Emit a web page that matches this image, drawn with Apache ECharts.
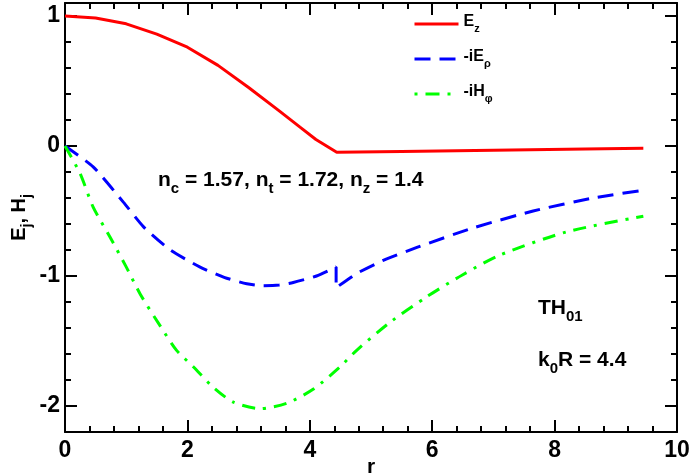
<!DOCTYPE html>
<html>
<head>
<meta charset="utf-8">
<script src="https://cdn.jsdelivr.net/npm/echarts@6/dist/echarts.min.js"></script>
<style>
  html, body { margin: 0; padding: 0; background: #fff; }
  #chart { width: 691px; height: 475px; }
</style>
</head>
<body>
<div id="chart"></div>
<script>
// values
const rEz = [0, 0.5, 1, 1.5, 2, 2.5, 3, 3.5, 3.84, 4.1, 4.44, 5.5, 7, 8.5, 9.45];
const ez = [1, 0.985, 0.94, 0.86, 0.76, 0.62, 0.45, 0.27, 0.145, 0.05, -0.048, -0.042, -0.032, -0.023, -0.017];

const rErho = [0, 0.46, 0.95, 1.28, 1.72, 2.2, 2.6, 2.97, 3.24, 3.5, 3.73, 4.11, 4.43, 4.43, 4.77, 5.2, 5.75, 6.67, 7.65, 8.63, 9.45];
const erho = [0, -0.16, -0.43, -0.62, -0.8, -0.93, -1.01, -1.06, -1.075, -1.07, -1.05, -1.0, -0.93, -1.09, -0.98, -0.88, -0.78, -0.63, -0.5, -0.4, -0.34];

const rHphi = [0, 0.245, 0.46, 0.735, 1.0, 1.23, 1.55, 1.82, 2.1, 2.42, 2.75, 3.19, 3.62, 4.06, 4.49, 4.77, 5.3, 5.91, 6.5, 7.1, 8.2, 9.45];
const hphi = [0, -0.21, -0.47, -0.70, -0.93, -1.14, -1.38, -1.57, -1.70, -1.855, -1.97, -2.02, -1.98, -1.87, -1.70, -1.57, -1.36, -1.16, -0.99, -0.84, -0.66, -0.54];

const yMajor = [-2, -1, 0, 1];
const yMinor = [-2.2, -1.8, -1.6, -1.4, -1.2, -0.8, -0.6, -0.4, -0.2, 0.2, 0.4, 0.6, 0.8, 1.0];

const font = 'Liberation Sans, Arial, Helvetica, sans-serif';

const RED = '#ff0000', BLUE = '#0000ff', GREEN = '#00ff00';
const DASH = [16, 9];
const DASHDOT = [13, 8, 3, 8];

function pairs(xs, ys) {
  return xs.map((x, i) => [x, ys[i]]);
}

const sub = (size, drop) => ({
  fontSize: size, fontWeight: 'bold', fontFamily: font, color: '#000',
  verticalAlign: 'top', padding: [drop, 0, 0, 0]
});
const main = size => ({
  fontSize: size, fontWeight: 'bold', fontFamily: font, color: '#000', verticalAlign: 'top'
});

const legendRich = { b: main(16), s: sub(11, 9) };
const legendText = {
  'Ez': '{b|E}{s|z}',
  '-iEρ': '{b|-iE}{s|ρ}',
  '-iHφ': '{b|-iH}{s|φ}'
};

function oneLegend(name, top, color, type) {
  return {
    data: [name],
    left: 408,
    top: top,
    itemWidth: 44,
    itemHeight: 14,
    itemGap: 11,
    itemStyle: { opacity: 0 },
    lineStyle: { color: color, width: 3, type: type },
    formatter: n => legendText[n],
    textStyle: { rich: legendRich, padding: [0, 0, 0, 0] }
  };
}

const tickLine = { color: '#000', width: 2 };
const frameLine = { onZero: false, lineStyle: { color: '#000', width: 2 } };
const tickFont = { fontSize: 23, fontWeight: 'bold', fontFamily: font, color: '#000' };

const chart = echarts.init(document.getElementById('chart'));
chart.setOption({
  animation: false,
  backgroundColor: '#fff',
  grid: { left: 65, top: 3, right: 14, bottom: 43, containLabel: false, outerBoundsMode: 'none' },
  legend: [
    oneLegend('Ez', 9, RED, 'solid'),
    oneLegend('-iEρ', 44, BLUE, DASH),
    oneLegend('-iHφ', 79, GREEN, [3, 8, 14, 8])
  ],
  xAxis: [{
    type: 'value',
    min: 0, max: 10, interval: 2,
    name: 'r',
    nameLocation: 'middle',
    nameGap: 25,
    nameMoveOverlap: false,
    nameTextStyle: { fontSize: 21, fontWeight: 'bold', fontFamily: font, color: '#000' },
    axisLine: frameLine,
    axisTick: { inside: true, length: 12, lineStyle: tickLine },
    minorTick: { show: true, splitNumber: 5, length: 6, lineStyle: tickLine },
    axisLabel: Object.assign({ margin: 7 }, tickFont),
    splitLine: { show: false }
  }, {
    type: 'value',
    position: 'top',
    min: 0, max: 10, interval: 2,
    axisLine: frameLine,
    axisTick: { inside: true, length: 12, lineStyle: tickLine },
    minorTick: { show: true, splitNumber: 5, length: 6, lineStyle: tickLine },
    axisLabel: { show: false },
    splitLine: { show: false }
  }],
  yAxis: [{
    type: 'value',
    min: -2.2, max: 1.1,
    name: '{b|E}{s|j}{b|, H}{s|j}',
    nameLocation: 'middle',
    nameRotate: 90,
    nameGap: 31,
    nameMoveOverlap: false,
    nameTextStyle: { rich: { b: main(20), s: sub(14, 11) } },
    axisLine: frameLine,
    axisTick: { inside: true, length: 12, lineStyle: tickLine, customValues: yMajor },
    axisLabel: Object.assign({ margin: 5, customValues: yMajor }, tickFont),
    splitLine: { show: false }
  }, {
    type: 'value',
    min: -2.2, max: 1.1,
    position: 'left',
    axisLine: { show: false, onZero: false },
    axisTick: { inside: true, length: 6, lineStyle: tickLine, customValues: yMinor },
    axisLabel: { show: false },
    splitLine: { show: false }
  }, {
    type: 'value',
    min: -2.2, max: 1.1,
    position: 'right',
    axisLine: { show: true, onZero: false, lineStyle: { color: '#000', width: 2 } },
    axisTick: { show: true, inside: true, length: 12, lineStyle: tickLine, customValues: yMajor },
    axisLabel: { show: false },
    splitLine: { show: false }
  }, {
    type: 'value',
    min: -2.2, max: 1.1,
    position: 'right',
    axisLine: { show: false, onZero: false },
    axisTick: { show: true, inside: true, length: 6, lineStyle: tickLine, customValues: yMinor },
    axisLabel: { show: false },
    splitLine: { show: false }
  }],
  series: [{
    name: 'Ez',
    type: 'line',
    symbol: 'none',
    lineStyle: { color: RED, width: 3 },
    itemStyle: { color: RED },
    data: pairs(rEz, ez)
  }, {
    name: '-iEρ',
    type: 'line',
    symbol: 'none',
    smooth: 0.2,
    lineStyle: { color: BLUE, width: 3, type: DASH },
    itemStyle: { color: BLUE },
    data: pairs(rErho, erho)
  }, {
    name: '-iHφ',
    type: 'line',
    symbol: 'none',
    smooth: 0.25,
    lineStyle: { color: GREEN, width: 3, type: DASHDOT },
    itemStyle: { color: GREEN },
    data: pairs(rHphi, hphi)
  }],
  graphic: [{
    type: 'text',
    left: 158,
    top: 170,
    style: {
      text: '{b|n}{s|c}{b| = 1.57, n}{s|t}{b| = 1.72, n}{s|z}{b| = 1.4}',
      rich: { b: main(21), s: sub(15, 11) }
    }
  }, {
    type: 'text',
    left: 538,
    top: 298,
    style: {
      text: '{b|TH}{s|01}',
      rich: { b: main(21), s: sub(15, 11) }
    }
  }, {
    type: 'text',
    left: 538,
    top: 350,
    style: {
      text: '{b|k}{s|0}{b|R = 4.4}',
      rich: { b: main(21), s: sub(15, 11) }
    }
  }]
});
</script>
</body>
</html>
